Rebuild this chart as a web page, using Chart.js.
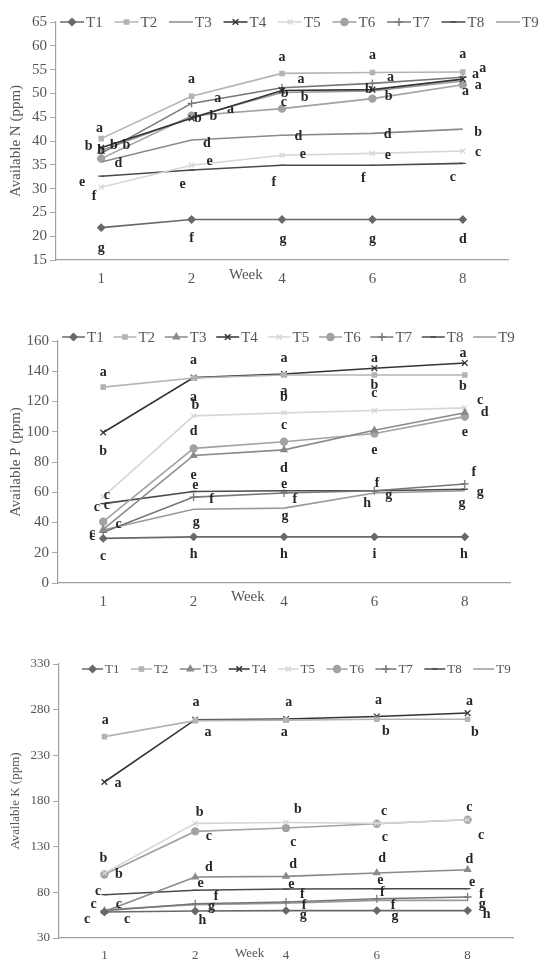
<!DOCTYPE html>
<html>
<head>
<meta charset="utf-8">
<script src="https://cdn.jsdelivr.net/npm/chart.js@4/dist/chart.umd.min.js"></script>
<style>
body { margin: 0; background: #fff; }
.box { position: absolute; left: 0; width: 545px; }
</style>
</head>
<body>
<div class="box" style="top:0px"><canvas id="n_chart" width="545" height="300"></canvas></div>
<div class="box" style="top:315px"><canvas id="p_chart" width="545" height="308"></canvas></div>
<div class="box" style="top:640px"><canvas id="k_chart" width="545" height="322"></canvas></div>
<script>
var weeks = ['1', '2', '4', '6', '8'];
var treatments = ['T1', 'T2', 'T3', 'T4', 'T5', 'T6', 'T7', 'T8', 'T9'];

// y axis tick labels
var n_ticks = [15, 20, 25, 30, 35, 40, 45, 50, 55, 60, 65];
var p_ticks = [0, 20, 40, 60, 80, 100, 120, 140, 160];
var k_ticks = [30, 80, 130, 180, 230, 280, 330];

// available N (ppm), one row per treatment T1..T9
var n_values = [
    [21.8, 23.5, 23.5, 23.5, 23.5],
    [40.5, 49.4, 54.2, 54.4, 54.5],
    [35.6, 40.2, 41.2, 41.6, 42.5],
    [38.6, 44.8, 50.6, 50.8, 53.0],
    [30.3, 34.9, 37.0, 37.4, 37.9],
    [36.3, 45.3, 46.8, 48.9, 51.8],
    [37.4, 47.9, 51.2, 52.1, 53.4],
    [32.6, 33.9, 34.9, 34.9, 35.3],
    [38.0, 45.0, 50.2, 50.5, 52.6]
];

// available P (ppm)
var p_values = [
    [29.5, 30.5, 30.5, 30.5, 30.5],
    [129.5, 135.5, 137.5, 137.5, 137.5],
    [35.5, 84.3, 88.0, 101.0, 112.6],
    [99.5, 135.8, 138.2, 142.0, 145.5],
    [57.0, 110.5, 112.5, 114.0, 115.8],
    [40.5, 89.0, 93.4, 98.8, 110.0],
    [33.5, 56.8, 59.5, 61.0, 65.5],
    [52.5, 60.5, 61.0, 61.0, 62.0],
    [35.0, 48.8, 49.5, 59.5, 61.0]
];

// available K (ppm)
var k_values = [
    [58.5, 59.5, 60.0, 60.0, 60.0],
    [250.5, 268.0, 268.5, 269.5, 269.5],
    [59.0, 96.8, 97.5, 101.2, 104.8],
    [200.8, 269.0, 269.8, 272.6, 276.3],
    [101.0, 155.5, 156.5, 155.5, 159.5],
    [99.5, 146.7, 150.4, 155.1, 159.5],
    [60.0, 67.5, 69.4, 73.0, 74.9],
    [77.4, 82.2, 83.6, 83.9, 84.0],
    [61.0, 66.5, 68.0, 71.2, 71.2]
];

// significance letters: [week index, value, letter]
var n_letters = [
    [-0.02, 42.7, 'a'], [-0.14, 38.9, 'b'], [0, 38.1, 'b'], [0.14, 39.1, 'b'], [0.28, 39.1, 'b'], [0.19, 35.4, 'd'], [-0.21, 31.2, 'e'], [-0.08, 28.4, 'f'], [0, 17.5, 'g'],
    [1, 53, 'a'], [1.29, 49, 'a'], [1.07, 44.8, 'b'], [1.24, 45.2, 'b'], [1.43, 46.7, 'a'], [1.17, 39.6, 'd'], [1.2, 35.8, 'e'], [0.9, 30.8, 'e'], [1, 19.6, 'f'],
    [2, 57.6, 'a'], [2.21, 53, 'a'], [2.03, 50, 'b'], [2.02, 48.1, 'c'], [2.25, 49.2, 'b'], [2.18, 41, 'd'], [2.23, 37.2, 'e'], [1.91, 31.2, 'f'], [2.01, 19.4, 'g'],
    [3, 58, 'a'], [3.2, 53.4, 'a'], [2.96, 50.9, 'b'], [3.18, 49.4, 'b'], [3.17, 41.4, 'd'], [3.17, 37, 'e'], [2.9, 32.2, 'f'], [3, 19.4, 'g'],
    [4, 58.2, 'a'], [4.14, 54, 'a'], [4.22, 55.3, 'a'], [4.17, 51.7, 'a'], [4.03, 50.5, 'a'], [4.17, 41.9, 'b'], [4.17, 37.7, 'c'], [3.89, 32.4, 'c'], [4, 19.4, 'd']
];

var p_letters = [
    [0, 139.4, 'a'], [0, 87.3, 'b'], [0.04, 58.2, 'c'], [0.04, 51, 'c'], [-0.07, 49.7, 'c'], [0.17, 38.5, 'c'], [-0.12, 33, 'c'], [-0.12, 30.5, 'c'], [0, 17.3, 'c'],
    [1, 147.4, 'a'], [1, 122.9, 'a'], [1.02, 117.6, 'b'], [1, 100.5, 'd'], [1, 71.4, 'e'], [1.02, 64.8, 'e'], [1.2, 55, 'f'], [1.03, 40.4, 'g'], [1, 18.7, 'h'],
    [2, 148.6, 'a'], [2, 127, 'a'], [2, 123, 'b'], [2, 104.4, 'c'], [2, 76, 'd'], [2, 65.5, 'e'], [2.12, 55, 'f'], [2.01, 43.9, 'g'], [2, 18.7, 'h'],
    [3, 148.6, 'a'], [3, 130.8, 'b'], [3, 125.5, 'c'], [3, 88, 'e'], [3.03, 66.1, 'f'], [3.16, 58.2, 'g'], [2.92, 52.9, 'h'], [3, 18.7, 'i'],
    [3.98, 151.9, 'a'], [3.98, 130.1, 'b'], [4.17, 121, 'c'], [4.22, 113, 'd'], [4, 99.8, 'e'], [4.1, 72.8, 'f'], [4.17, 59.6, 'g'], [3.97, 52.9, 'g'], [3.99, 18.7, 'h']
];

var k_letters = [
    [0.01, 267.9, 'a'], [0.15, 199, 'a'], [-0.01, 116.8, 'b'], [0.16, 99.3, 'b'], [-0.07, 80.7, 'c'], [-0.12, 66.5, 'c'], [0.16, 66.5, 'c'], [-0.19, 50.1, 'c'], [0.25, 50.1, 'c'],
    [1.01, 287.7, 'a'], [1.14, 254.8, 'a'], [1.05, 167.2, 'b'], [1.15, 140.9, 'c'], [1.15, 107, 'd'], [1.06, 89.5, 'e'], [1.23, 75.2, 'f'], [1.18, 64.3, 'g'], [1.08, 48.9, 'h'],
    [2.03, 287.7, 'a'], [1.98, 254.8, 'a'], [2.13, 170.5, 'b'], [2.08, 134.3, 'c'], [2.08, 110.3, 'd'], [2.06, 88.4, 'e'], [2.18, 77.5, 'f'], [2.2, 65.4, 'f'], [2.19, 54.5, 'g'],
    [3.02, 289.9, 'a'], [3.1, 255.9, 'b'], [3.08, 168.3, 'c'], [3.09, 139.8, 'c'], [3.06, 116.8, 'd'], [3.04, 92.7, 'e'], [3.06, 79.6, 'f'], [3.18, 65.4, 'f'], [3.2, 53.4, 'g'],
    [4.02, 288.8, 'a'], [4.08, 254.8, 'b'], [4.02, 172.7, 'c'], [4.15, 142, 'c'], [4.02, 115.7, 'd'], [4.05, 90.6, 'e'], [4.15, 77.5, 'f'], [4.16, 66.5, 'g'], [4.21, 55.6, 'h']
];

var SERIF = "'Liberation Serif', 'Times New Roman', serif";

// line colour and marker for T1..T9
var series_style = [
    { color: '#686868', point: 'rectRot', radius: 3.5 },
    { color: '#b4b4b4', point: 'rect', radius: 3 },
    { color: '#8a8a8a', point: 'triangle', radius: 3.5 },
    { color: '#333333', point: 'crossRot', radius: 4 },
    { color: '#d6d6d6', point: 'crossRot', radius: 3.5 },
    { color: '#a2a2a2', point: 'circle', radius: 3.5 },
    { color: '#777777', point: 'cross', radius: 4 },
    { color: '#4a4a4a', point: 'line', radius: 3 },
    { color: '#9a9a9a', point: false, radius: 0 }
];

function markerOf(i, layout) {
    var s = series_style[i];
    if (i === 2 && layout.noTriangle) return { point: false, radius: 0 };
    return { point: s.point, radius: s.radius };
}

function makeOverlay(letters, layout) {
    return {
        id: 'overlay',
        afterDatasetsDraw: function (chart) {
            var ctx = chart.ctx;
            var xs = chart.scales.x;
            var ys = chart.scales.y;
            ctx.save();
            // letters
            ctx.font = 'bold 14px ' + SERIF;
            ctx.fillStyle = '#262626';
            ctx.textAlign = 'center';
            ctx.textBaseline = 'middle';
            for (var i = 0; i < letters.length; i++) {
                ctx.fillText(letters[i][2], xs.getPixelForValue(letters[i][0]), ys.getPixelForValue(letters[i][1]));
            }
            // "Week" label between weeks 2 and 4
            ctx.font = layout.tickSize + 'px ' + SERIF;
            ctx.fillStyle = '#555';
            ctx.fillText('Week', xs.getPixelForValue(1.6), xs.top + layout.weekDy);
            // legend row
            ctx.font = layout.legendSize + 'px ' + SERIF;
            ctx.textAlign = 'left';
            for (var j = 0; j < treatments.length; j++) {
                var lx = layout.legendX + j * layout.legendStep;
                var ly = layout.legendY;
                var s = series_style[j];
                var m = markerOf(j, layout);
                ctx.strokeStyle = s.color;
                ctx.lineWidth = 1.5;
                ctx.beginPath();
                ctx.moveTo(lx, ly);
                ctx.lineTo(lx + layout.legendLine, ly);
                ctx.stroke();
                if (m.point) {
                    ctx.fillStyle = s.color;
                    Chart.helpers.drawPoint(ctx, {
                        pointStyle: m.point, radius: m.radius, borderWidth: 1.3, rotation: 0
                    }, lx + layout.legendLine / 2, ly);
                }
                ctx.fillStyle = '#555';
                ctx.fillText(treatments[j], lx + layout.legendLine + 2, ly + 1);
            }
            ctx.restore();
        }
    };
}

function buildChart(id, values, ticks, letters, title, layout) {
    var datasets = [];
    for (var i = 0; i < treatments.length; i++) {
        var s = series_style[i];
        var m = markerOf(i, layout);
        datasets.push({
            label: treatments[i],
            data: values[i],
            borderColor: s.color,
            backgroundColor: s.color,
            borderWidth: 1.6,
            pointStyle: m.point,
            pointRadius: m.radius,
            pointBorderWidth: 1.3,
            fill: false,
            tension: 0
        });
    }
    new Chart(document.getElementById(id), {
        type: 'line',
        data: { labels: weeks, datasets: datasets },
        options: {
            responsive: false,
            animation: false,
            layout: { padding: { top: layout.padTop, right: layout.padRight, left: 0, bottom: 0 } },
            plugins: { legend: { display: false }, tooltip: { enabled: false } },
            scales: {
                x: {
                    offset: true,
                    grid: { display: false, drawTicks: false },
                    border: { display: true, color: '#a0a0a0', width: 1.2 },
                    ticks: { color: '#555', padding: layout.xPad, font: { family: SERIF, size: layout.tickSize } },
                    afterFit: function (scale) { scale.height = layout.xHeight; }
                },
                y: {
                    min: ticks[0],
                    max: ticks[ticks.length - 1],
                    grid: { drawOnChartArea: false, drawTicks: true, tickLength: 6, color: '#a8a8a8' },
                    border: { display: true, color: '#a0a0a0', width: 1.2 },
                    ticks: { stepSize: ticks[1] - ticks[0], color: '#555', padding: 3, font: { family: SERIF, size: layout.tickSize } },
                    title: {
                        display: true, text: title, color: '#555',
                        font: { family: SERIF, size: layout.tickSize },
                        padding: { top: layout.titlePad, bottom: 0 }
                    },
                    afterFit: function (scale) { scale.width = layout.yWidth; }
                }
            }
        },
        plugins: [makeOverlay(letters, layout)]
    });
}

buildChart('n_chart', n_values, n_ticks, n_letters, 'Available N (ppm)', {
    padTop: 22, padRight: 37, yWidth: 56, xHeight: 40, xPad: 10, tickSize: 15, titlePad: 7, weekDy: 15,
    legendX: 60, legendStep: 54.5, legendY: 22, legendLine: 24, legendSize: 15, noTriangle: true
});
buildChart('p_chart', p_values, p_ticks, p_letters, 'Available P (ppm)', {
    padTop: 26, padRight: 35, yWidth: 58, xHeight: 40, xPad: 10, tickSize: 15, titlePad: 7, weekDy: 14,
    legendX: 62, legendStep: 51.4, legendY: 22, legendLine: 23, legendSize: 15, noTriangle: false
});
buildChart('k_chart', k_values, k_ticks, k_letters, 'Available K (ppm)', {
    padTop: 24, padRight: 32, yWidth: 59, xHeight: 24, xPad: 10, tickSize: 13, titlePad: 8, weekDy: 16,
    legendX: 82, legendStep: 48.9, legendY: 29, legendLine: 21, legendSize: 13, noTriangle: false
});
</script>
</body>
</html>
